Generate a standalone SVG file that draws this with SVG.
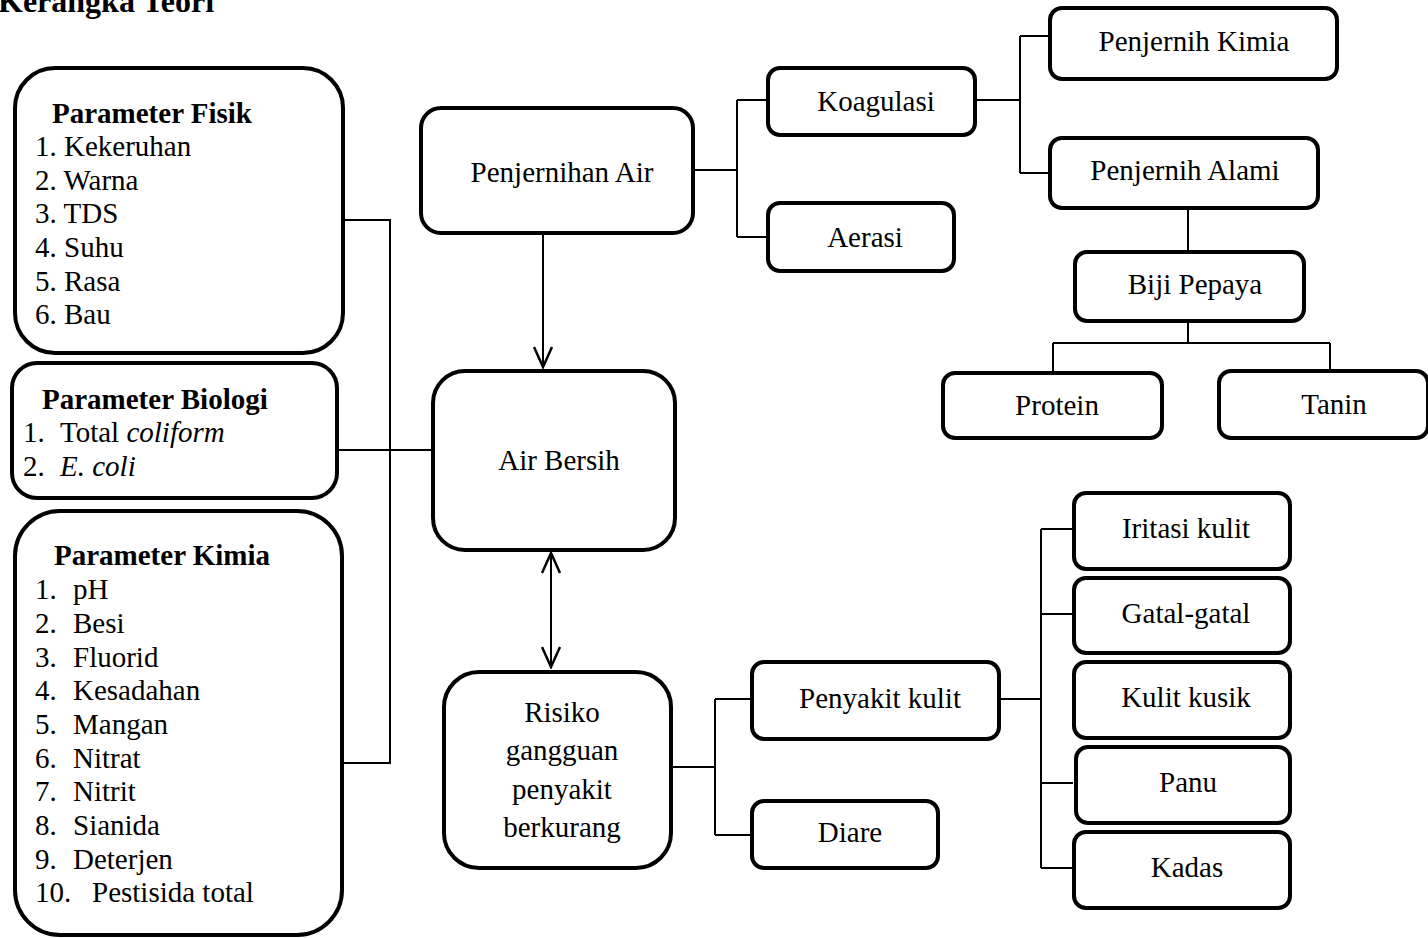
<svg xmlns="http://www.w3.org/2000/svg" width="1428" height="938" viewBox="0 0 1428 938">
<style>
text{font-family:"Liberation Serif","Times New Roman",serif;font-size:29px;fill:#000}
.b{font-weight:bold}
.c{text-anchor:middle}
.i{font-style:italic}
.box{fill:#fff;stroke:#000;stroke-width:4}
.ln{fill:none;stroke:#000;stroke-width:2}
</style>
<defs>
<marker id="arr" viewBox="0 0 24 20" refX="22" refY="10" markerWidth="24" markerHeight="20" markerUnits="userSpaceOnUse" orient="auto-start-reverse">
<path d="M2,1 L22,10 L2,19" fill="none" stroke="#000" stroke-width="2.5"/>
</marker>
</defs>
<text class="b" x="-2" y="12" style="font-size:32px">Kerangka Teori</text>
<g id="connectors">
<path class="ln" d="M343,220 H390 V763 H342"/>
<path class="ln" d="M337,450 H433"/>
<path class="ln" d="M543,233 V367" marker-end="url(#arr)"/>
<path class="ln" d="M551,553 V667" marker-start="url(#arr)" marker-end="url(#arr)"/>
<path class="ln" d="M693,170 H737 M737,100 V237 M737,100 H768 M737,237 H768"/>
<path class="ln" d="M976,100 H1020 M1020,36 V173 M1020,36 H1050 M1020,173 H1050"/>
<path class="ln" d="M1188,208 V252"/>
<path class="ln" d="M1188,321 V343 M1053,343 H1330 M1053,343 V372 M1330,343 V370"/>
<path class="ln" d="M671,767 H715 M715,699 V835 M715,699 H752 M715,835 H752"/>
<path class="ln" d="M999,699 H1041 M1041,529 V868 M1041,529 H1073 M1041,614 H1073 M1041,783 H1073 M1041,868 H1073"/>
</g>
<g id="fisik">
<rect class="box" x="15" y="68" width="328" height="285" rx="40"/>
<text class="b" x="52" y="123">Parameter Fisik</text>
<text x="35" y="156">1. Kekeruhan</text>
<text x="35" y="190">2. Warna</text>
<text x="35" y="223">3. TDS</text>
<text x="35" y="257">4. Suhu</text>
<text x="35" y="291">5. Rasa</text>
<text x="35" y="324">6. Bau</text>
</g>
<g id="biologi">
<rect class="box" x="12" y="363" width="325" height="135" rx="25"/>
<text class="b" x="42" y="409">Parameter Biologi</text>
<text x="23" y="442">1.</text><text x="60" y="442">Total <tspan class="i">coliform</tspan></text>
<text x="23" y="476">2.</text><text class="i" x="60" y="476">E. coli</text>
</g>
<g id="kimia">
<rect class="box" x="15" y="511" width="327" height="424" rx="45"/>
<text class="b" x="54" y="565">Parameter Kimia</text>
<text x="35" y="599">1.</text><text x="73" y="599">pH</text>
<text x="35" y="633">2.</text><text x="73" y="633">Besi</text>
<text x="35" y="667">3.</text><text x="73" y="667">Fluorid</text>
<text x="35" y="700">4.</text><text x="73" y="700">Kesadahan</text>
<text x="35" y="734">5.</text><text x="73" y="734">Mangan</text>
<text x="35" y="768">6.</text><text x="73" y="768">Nitrat</text>
<text x="35" y="801">7.</text><text x="73" y="801">Nitrit</text>
<text x="35" y="835">8.</text><text x="73" y="835">Sianida</text>
<text x="35" y="869">9.</text><text x="73" y="869">Deterjen</text>
<text x="35" y="902">10.</text><text x="92" y="902">Pestisida total</text>
</g>
<g id="penjernihan">
<rect class="box" x="421" y="108" width="272" height="125" rx="20"/>
<text class="c" x="562" y="182">Penjernihan Air</text>
</g>
<g id="airbersih">
<rect class="box" x="433" y="371" width="242" height="179" rx="32"/>
<text class="c" x="559" y="470">Air Bersih</text>
</g>
<g id="risiko">
<rect class="box" x="444" y="672" width="227" height="196" rx="35"/>
<text class="c" x="562" y="722">Risiko</text>
<text class="c" x="562" y="760">gangguan</text>
<text class="c" x="562" y="799">penyakit</text>
<text class="c" x="562" y="837">berkurang</text>
</g>
<g id="koagulasi">
<rect class="box" x="768" y="68" width="207" height="67" rx="12"/>
<text class="c" x="876" y="111">Koagulasi</text>
</g>
<g id="aerasi">
<rect class="box" x="768" y="203" width="186" height="68" rx="12"/>
<text class="c" x="865" y="247">Aerasi</text>
</g>
<g id="kimiaPenjernih">
<rect class="box" x="1050" y="8" width="287" height="71" rx="12"/>
<text class="c" x="1194" y="51">Penjernih Kimia</text>
</g>
<g id="alami">
<rect class="box" x="1050" y="138" width="268" height="70" rx="12"/>
<text class="c" x="1185" y="180">Penjernih Alami</text>
</g>
<g id="biji">
<rect class="box" x="1075" y="252" width="229" height="69" rx="12"/>
<text class="c" x="1195" y="294">Biji Pepaya</text>
</g>
<g id="protein">
<rect class="box" x="943" y="373" width="219" height="65" rx="12"/>
<text class="c" x="1057" y="415">Protein</text>
</g>
<g id="tanin">
<rect class="box" x="1219" y="371" width="209" height="67" rx="12"/>
<text class="c" x="1334" y="414">Tanin</text>
</g>
<g id="penyakit">
<rect class="box" x="752" y="662" width="247" height="77" rx="12"/>
<text class="c" x="880" y="708">Penyakit kulit</text>
</g>
<g id="diare">
<rect class="box" x="752" y="801" width="186" height="67" rx="12"/>
<text class="c" x="850" y="842">Diare</text>
</g>
<g id="iritasi">
<rect class="box" x="1074" y="493" width="216" height="76" rx="12"/>
<text class="c" x="1186" y="538">Iritasi kulit</text>
</g>
<g id="gatal">
<rect class="box" x="1074" y="578" width="216" height="75" rx="12"/>
<text class="c" x="1186" y="623">Gatal-gatal</text>
</g>
<g id="kusik">
<rect class="box" x="1074" y="662" width="216" height="76" rx="12"/>
<text class="c" x="1186" y="707">Kulit kusik</text>
</g>
<g id="panu">
<rect class="box" x="1076" y="747" width="214" height="76" rx="12"/>
<text class="c" x="1188" y="792">Panu</text>
</g>
<g id="kadas">
<rect class="box" x="1074" y="832" width="216" height="76" rx="12"/>
<text class="c" x="1187" y="877">Kadas</text>
</g>
</svg>
